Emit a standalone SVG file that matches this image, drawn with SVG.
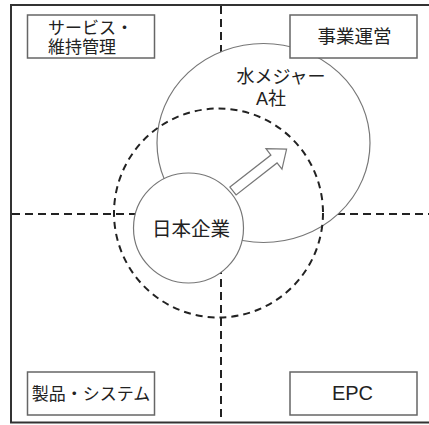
<svg xmlns="http://www.w3.org/2000/svg" width="429" height="425" viewBox="0 0 429 425">
<style>
.frame{fill:none;stroke:#333;stroke-width:2}
.axis{fill:none;stroke:#222;stroke-width:2;stroke-dasharray:8 5}
.box{fill:#fff;stroke:#666;stroke-width:1.5}
.circ{fill:#fff;stroke:#777;stroke-width:1.2}
.dcirc{fill:none;stroke:#222;stroke-width:2;stroke-dasharray:7 5}
.t{font-family:"Liberation Sans","Noto Sans CJK JP",sans-serif;font-size:18px;fill:#222}
</style>
<rect width="429" height="425" fill="#fff"/>
<g id="frame">
<path class="frame" d="M429,5 H11 V422.5 H429"/>
</g>
<g id="axes">
<line class="axis" x1="221" y1="6" x2="221" y2="422"/>
<line class="axis" x1="12" y1="214" x2="429" y2="214"/>
</g>
<g id="water-major">
<ellipse class="circ" cx="263.5" cy="143" rx="106.5" ry="99.5"/>
<text class="t" x="281" y="83" text-anchor="middle">水メジャー</text>
<text class="t" x="271" y="105" text-anchor="middle">A社</text>
</g>
<g id="dashed-circle">
<circle class="dcirc" cx="218.5" cy="213" r="104.5"/>
</g>
<g id="japan-company">
<circle class="circ" cx="188.5" cy="228" r="55"/>
<text class="t" x="191" y="236" text-anchor="middle" style="font-size:19.5px">日本企業</text>
</g>
<g id="connectors">
<path class="circ" transform="translate(233,191) rotate(-38)" d="M0,-5 H52 V-13 L68,0 L52,13 V5 H0 Z"/>
</g>
<g id="service">
<rect class="box" x="27.5" y="15" width="127" height="43"/>
<text class="t" x="48" y="34" style="font-size:17px">サービス・</text>
<text class="t" x="48" y="53" style="font-size:17px">維持管理</text>
</g>
<g id="business">
<rect class="box" x="290" y="15" width="127" height="43"/>
<text class="t" x="354.5" y="43" text-anchor="middle" style="font-size:18.5px">事業運営</text>
</g>
<g id="product">
<rect class="box" x="27.5" y="372" width="127" height="43"/>
<text class="t" x="91" y="400" text-anchor="middle" style="font-size:17px">製品・システム</text>
</g>
<g id="epc">
<rect class="box" x="290" y="372" width="127" height="43"/>
<text class="t" x="352.5" y="400" text-anchor="middle" style="font-size:20px">EPC</text>
</g>
</svg>
